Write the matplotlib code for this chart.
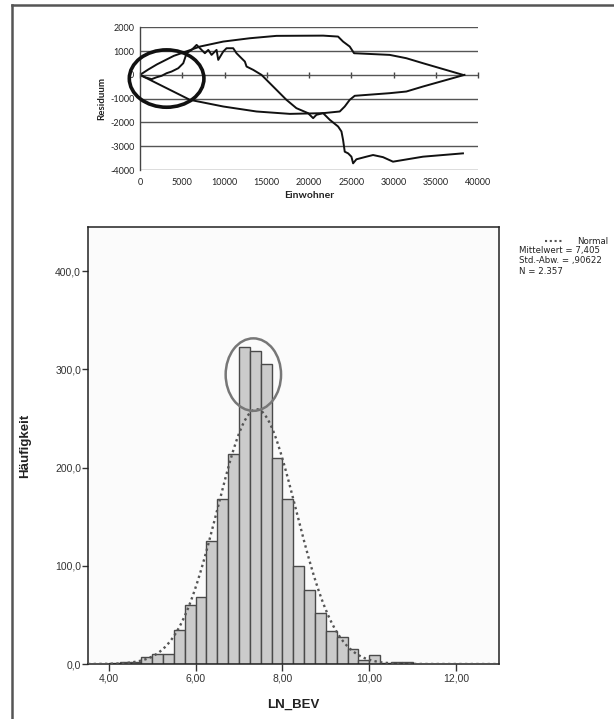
import numpy as np
import matplotlib
matplotlib.use("Agg")
import matplotlib.pyplot as plt
from matplotlib.patches import Ellipse
from matplotlib.lines import Line2D
from matplotlib.ticker import FuncFormatter

plt.rcParams["axes.unicode_minus"] = False

# ---------------- data: top chart (residuals vs. inhabitants) ----------------
upper_x = [0, 1000, 2000, 3000, 4000, 5240, 7090, 9850, 13000, 16150, 21670,
           23440, 24030, 24820, 25330, 29550, 31520, 33490, 38220]
upper_y = [0, 230, 440, 620, 800, 954, 1190, 1400, 1540, 1640, 1650,
           1610, 1400, 1190, 910, 840, 700, 490, 0]

lower_x = [0, 1970, 3940, 5910, 9850, 13790, 17730, 21670, 23640, 24230,
           24820, 25410, 29550, 31520, 33490, 38400]
lower_y = [0, -350, -700, -1050, -1330, -1540, -1640, -1610, -1540, -1330,
           -1050, -880, -770, -700, -490, 0]

resid_x = [0, 590, 1380, 1970, 2560, 3150, 3740, 4530, 5120, 5520, 6110, 6700,
           7090, 7680, 8080, 8470, 9060, 9260, 9850, 10240, 11030, 11420,
           12010, 12410, 12610, 13400, 14380, 14970, 16150, 17330, 18510,
           19890, 20490, 20880, 21670, 22460, 23440, 23840, 24030, 24230,
           24630, 25020, 25220, 25610, 26790, 27580, 28760, 29940, 33490, 38220]
resid_y = [0, -100, -180, -100, -40, 70, 140, 280, 490, 910, 1050, 1260,
           1120, 910, 1050, 840, 1050, 630, 980, 1120, 1120, 910,
           700, 560, 350, 210, 0, -210, -630, -1050, -1400,
           -1610, -1820, -1680, -1610, -1890, -2170, -2380, -2730, -3230,
           -3300, -3440, -3720, -3550, -3440, -3370, -3460, -3650, -3440, -3300]

# ---------------- data: histogram of LN_BEV ----------------
bin_left = [4.00, 4.25, 4.50, 4.75, 5.00, 5.25, 5.50, 5.75, 6.00, 6.25, 6.50,
            6.75, 7.00, 7.25, 7.50, 7.75, 8.00, 8.25, 8.50, 8.75, 9.00, 9.25,
            9.50, 9.75, 10.00, 10.25, 10.50, 10.75]
counts = [1, 2, 2, 7, 10, 10, 35, 60, 68, 125, 168,
          214, 323, 319, 305, 210, 168, 100, 75, 52, 34, 28,
          15, 4, 9, 1, 2, 2]
bin_width = 0.25
mean_val = 7.405
sd_val = 0.90622
n_val = 2357

# ---------------- figure ----------------
fig = plt.figure(figsize=(6.14, 7.19), dpi=100)
W, H = 614, 719

def rect(l, t, r, b):
    return [l / W, 1 - b / H, (r - l) / W, (b - t) / H]

# outer frame (left and top)
fig.add_artist(Line2D([12 / W, 12 / W], [0, 1 - 5 / H], color="#555555", lw=1.8))
fig.add_artist(Line2D([12 / W, 1], [1 - 5 / H, 1 - 5 / H], color="#555555", lw=1.8))

# ---------------- top chart ----------------
top_font = "Lato"
ax1 = fig.add_axes(rect(140, 27.3, 478, 170))
ax1.set_xlim(0, 40000)
ax1.set_ylim(-4000, 2000)
ax1.set_yticks(np.arange(-4000, 2001, 1000))
ax1.set_xticks(np.arange(0, 40001, 5000))
ax1.grid(axis="y", color="#555555", lw=1.0)
ax1.set_axisbelow(True)
for s in ["top", "right", "bottom"]:
    ax1.spines[s].set_visible(False)
ax1.spines["left"].set_color("#444444")
ax1.spines["left"].set_linewidth(1.0)
ax1.tick_params(axis="x", length=0, labelsize=6.5, colors="#222222", pad=6)
ax1.tick_params(axis="y", length=0, labelsize=6.5, colors="#222222", pad=4)
for lab in ax1.get_xticklabels() + ax1.get_yticklabels():
    lab.set_fontfamily(top_font)
ax1.set_xlabel("Einwohner", fontsize=7.5, family=top_font, fontweight="bold",
               color="#222222", labelpad=3)
ax1.set_ylabel("Residuum", fontsize=7, family=top_font, fontweight="bold",
               color="#222222", labelpad=3)
# axis crossing at y = 0 with tick marks
sec = ax1.secondary_xaxis(4000 / 6000)
sec.set_xticks(np.arange(0, 40001, 5000))
sec.tick_params(axis="x", direction="inout", length=4, width=1.0,
                labelbottom=False, labeltop=False, color="#444444")
sec.spines["bottom"].set_color("#444444")
sec.spines["bottom"].set_linewidth(1.0)
sec.spines["top"].set_visible(False)

ax1.plot(upper_x, upper_y, color="#111111", lw=1.4)
ax1.plot(lower_x, lower_y, color="#111111", lw=1.4)
ax1.plot(resid_x, resid_y, color="#111111", lw=1.4)
ax1.add_patch(Ellipse((3150, -155), 8830, 2412, fill=False, ec="#111111",
                      lw=2.6, clip_on=False, zorder=5))

# ---------------- histogram ----------------
sp_font = ["Liberation Sans", "DejaVu Sans"]
ax2 = fig.add_axes(rect(88, 227, 499, 664))
ax2.set_facecolor("#fbfbfb")
ax2.set_xlim(3.52, 12.99)
ax2.set_ylim(0, 445)
ax2.bar(bin_left, counts, width=bin_width, align="edge", color="#cbcbcb",
        edgecolor="#4a4a4a", linewidth=1.0, zorder=2)
xs = np.linspace(3.52, 12.99, 400)
ys = n_val * bin_width / (sd_val * np.sqrt(2 * np.pi)) * np.exp(-0.5 * ((xs - mean_val) / sd_val) ** 2)
ax2.plot(xs, ys, color="#555555", lw=1.7, ls=(0, (1, 1.4)), zorder=3)
ax2.add_patch(Ellipse((7.33, 294.7), 1.276, 73.8, fill=False, ec="#777777",
                      lw=1.8, zorder=4))

ax2.set_yticks([0, 100, 200, 300, 400])
ax2.set_xticks([4, 6, 8, 10, 12])
ax2.yaxis.set_major_formatter(FuncFormatter(lambda v, p: f"{v:.1f}".replace(".", ",")))
ax2.xaxis.set_major_formatter(FuncFormatter(lambda v, p: f"{v:.2f}".replace(".", ",")))
ax2.tick_params(axis="y", length=4, width=1.0, labelsize=7.5, colors="#333333", pad=1)
ax2.tick_params(axis="x", length=5, width=1.0, labelsize=7.5, colors="#333333", pad=2)
for lab in ax2.get_xticklabels() + ax2.get_yticklabels():
    lab.set_fontfamily(sp_font)
for s in ax2.spines.values():
    s.set_color("#222222")
    s.set_linewidth(1.1)
ax2.set_ylabel("Häufigkeit", fontsize=9.5, fontweight="bold", family=sp_font,
               color="#222222", labelpad=17)
ax2.set_xlabel("LN_BEV", fontsize=9.5, fontweight="bold", family=sp_font,
               color="#222222", labelpad=11)

# legend / statistics text
stat_font = "DejaVu Sans"
fig.add_artist(Line2D([545 / W, 562 / W], [1 - 241 / H, 1 - 241 / H], color="#555555",
                      lw=1.5, ls=(0, (1, 1.3))))
fig.text(608 / W, 1 - 241 / H, "Normal", fontsize=6.2, family=stat_font,
         va="center", ha="right", color="#222222")
stats = ["Mittelwert = 7,405", "Std.-Abw. = ,90622", "N = 2.357"]
for i, s in enumerate(stats):
    fig.text(519 / W, 1 - (251 + 10 * i) / H, s, fontsize=6.2, family=stat_font,
             va="center", ha="left", color="#222222")

fig.savefig("out.png", dpi=100, facecolor="white")
